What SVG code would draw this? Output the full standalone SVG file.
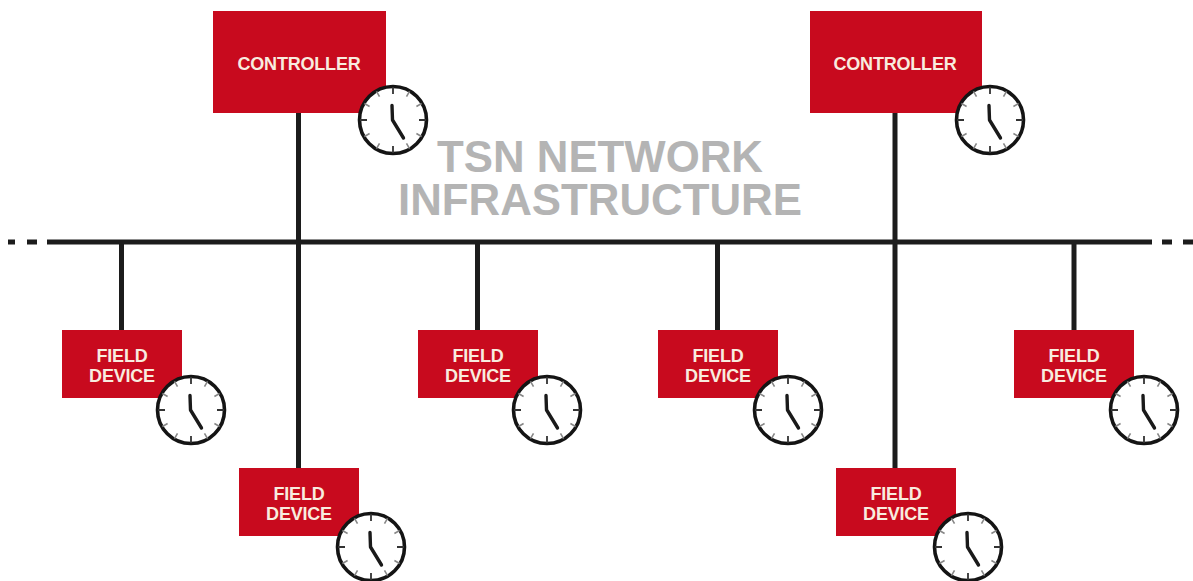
<svg xmlns="http://www.w3.org/2000/svg" width="1193" height="581" viewBox="0 0 1193 581">
<style>
.box{fill:#c80a1e}
.lbl{font-family:"Liberation Sans",Arial,sans-serif;font-weight:700;fill:#f8ecdf;text-anchor:middle;letter-spacing:-.2px;font-size:18px}
.big{font-family:"Liberation Sans",Arial,sans-serif;font-weight:700;font-size:43.800px;fill:#b4b4b4;text-anchor:middle}
.wire{stroke:#1c1c1c;stroke-width:5;fill:none}
.face{fill:#fff;stroke:#141414;stroke-width:3.6}
.hand{fill:none;stroke:#1a1a1a;stroke-width:3.4;stroke-linecap:round;stroke-linejoin:round}
.tk{stroke:#333;stroke-width:1.8}
.tm{stroke:#888;stroke-width:1.6}
</style>
<defs>
<g id="clock">
<circle class="face" r="33.5"/>
<path class="tk" d="M0-33V-26M0 33V26M-33 0H-26M33 0H26"/>
<path class="tm" d="M16.5-28.6L13.5-23.4M28.6-16.5L23.4-13.5M28.6 16.5L23.4 13.5M16.5 28.6L13.5 23.4M-16.5 28.6L-13.5 23.4M-28.6 16.5L-23.4 13.5M-28.6-16.5L-23.4-13.5M-16.5-28.6L-13.5-23.4"/>
<path class="hand" d="M-1-14.500L-.5 0L10.500 18"/>
</g>
</defs>
<g id="connectors">
<path class="wire" d="M47 242H1152"/>
<path class="wire" d="M8 242H15M27 242H37M1162 242H1172M1183 242H1193"/>
<path class="wire" d="M298.500 113V468M895 113V468M121.500 242V330M477.500 242V330M717.500 242V330M1074 242V330"/>
</g>
<text class="big" x="600" y="172">TSN NETWORK</text>
<text class="big" x="600" y="215">INFRASTRUCTURE</text>
<g id="controller-1"><rect class="box" x="213" y="11" width="173" height="102"/><text class="lbl" x="299" y="70">CONTROLLER</text><use href="#clock" x="393" y="120"/></g>
<g id="controller-2"><rect class="box" x="810" y="11" width="172" height="102"/><text class="lbl" x="895" y="70">CONTROLLER</text><use href="#clock" x="990" y="120"/></g>
<g id="field-1"><rect class="box" x="62" y="330" width="120" height="68"/><text class="lbl" x="122" y="362">FIELD</text><text class="lbl" x="122" y="382">DEVICE</text><use href="#clock" x="191" y="410"/></g>
<g id="field-2"><rect class="box" x="418" y="330" width="120" height="68"/><text class="lbl" x="478" y="362">FIELD</text><text class="lbl" x="478" y="382">DEVICE</text><use href="#clock" x="547" y="410"/></g>
<g id="field-3"><rect class="box" x="658" y="330" width="120" height="68"/><text class="lbl" x="718" y="362">FIELD</text><text class="lbl" x="718" y="382">DEVICE</text><use href="#clock" x="788" y="410"/></g>
<g id="field-4"><rect class="box" x="1014" y="330" width="120" height="68"/><text class="lbl" x="1074" y="362">FIELD</text><text class="lbl" x="1074" y="382">DEVICE</text><use href="#clock" x="1144" y="410"/></g>
<g id="field-5"><rect class="box" x="239" y="468" width="120" height="68"/><text class="lbl" x="299" y="500">FIELD</text><text class="lbl" x="299" y="520">DEVICE</text><use href="#clock" x="371" y="547"/></g>
<g id="field-6"><rect class="box" x="836" y="468" width="120" height="68"/><text class="lbl" x="896" y="500">FIELD</text><text class="lbl" x="896" y="520">DEVICE</text><use href="#clock" x="968" y="547"/></g>
</svg>
